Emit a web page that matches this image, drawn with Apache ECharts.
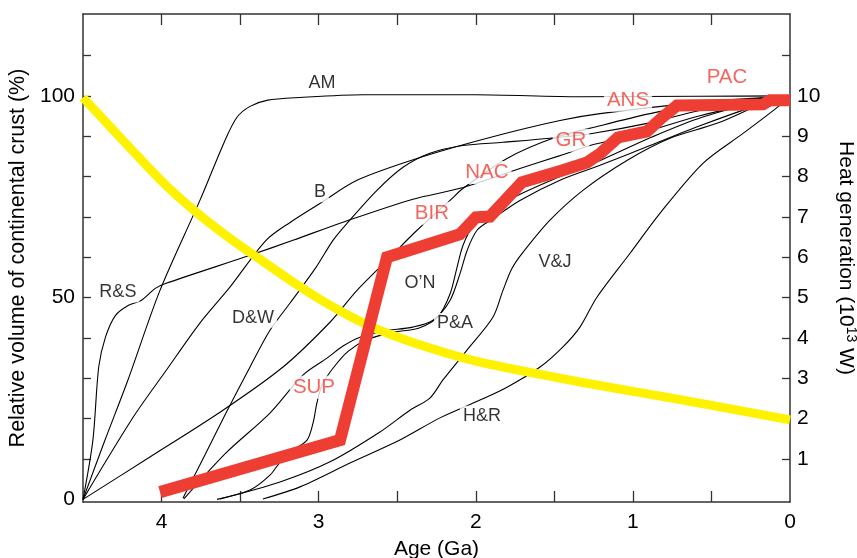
<!DOCTYPE html>
<html>
<head>
<meta charset="utf-8">
<script src="https://cdn.jsdelivr.net/npm/echarts@6/dist/echarts.min.js"></script>
<style>html,body{margin:0;padding:0;background:#fff}#c{width:857px;height:558px}</style>
</head>
<body>
<div id="c"></div>
<script>
// ---- data (age in Ga, relative crust volume in %) ----
const curveAM  = [[4.5,0],[4.36,14.7],[4.214,29.6],[4.01,51.8],[3.756,74.1],[3.597,88.9],[3.52,94.7],[3.437,97.4],[3.33,98.9],[3.12,99.6],[2.72,100.3],[2.0,100.3],[1.337,99.8],[0.573,99.9],[0,100]];
const curveB   = [[4.5,0],[4.18,20.4],[3.97,32.0],[3.756,43.7],[3.565,52.6],[3.335,64.2],[3.18,68.7],[2.99,73.4],[2.756,79.1],[2.374,84.5],[1.91,89.7],[1.464,93.9],[1.209,95.6],[0.573,98.4],[0,100]];
const curveRS  = [[4.5,0],[4.437,14.7],[4.40,32.8],[4.357,40.2],[4.293,45.6],[4.21,48.1],[4.13,49.3],[4.04,52.3],[3.975,53.5],[3.437,60.5],[3.164,64.2],[2.845,68.7],[2.40,74.4],[2.10,77.1],[1.719,82.0],[1.464,85.2],[1.273,87.7],[0.955,90.7],[0.573,95.1],[0,100]];
const curveL5  = [[4.5,0],[4.074,10.5],[3.609,22.1],[3.227,32.8],[2.928,43.9],[2.756,51.8],[2.546,60.0],[2.374,66.7],[2.164,74.1],[2.08,77.1],[1.801,84.5],[1.509,89.5],[1.209,92.6],[0.891,95.6],[0.573,97.9],[0,100]];
const curveDW  = [[3.864,0.3],[3.724,11.0],[3.59,21.4],[3.437,32.8],[3.31,41.9],[3.183,48.6],[3.017,57.5],[2.909,64.2],[2.82,68.4],[2.629,76.6],[2.463,82.3],[2.292,85.8],[2.081,87.7],[1.827,88.5],[1.528,89.5],[1.26,90.7],[0.91,93.2],[0.573,96.4],[0.172,99.0],[0,100]];
const curveON  = [[3.858,0.1],[3.59,11.5],[3.31,21.4],[3.10,30.8],[2.947,35.0],[2.845,38.0],[2.737,40.2],[2.59,41.7],[2.40,42.7],[2.272,44.4],[2.164,49.3],[2.10,56.0],[2.055,61.7],[1.992,66.7],[1.89,69.6],[1.719,74.1],[1.464,79.1],[1.209,82.8],[0.891,87.7],[0.573,92.6],[0.191,97.9],[0,100]];
const curvePA  = [[3.647,0],[3.437,2.3],[3.31,6.0],[3.246,9.2],[3.163,12.2],[3.074,14.7],[3.036,18.9],[3.011,23.9],[2.979,28.3],[2.909,32.5],[2.813,36.7],[2.69,39.6],[2.53,41.4],[2.36,42.5],[2.24,45.3],[2.164,50.9],[2.12,57.4],[2.081,63.0],[2.017,67.8],[1.923,70.9],[1.74,75.2],[1.483,79.7],[1.197,84.2],[0.879,89.8],[0.56,94.7],[0.159,99.0],[0,100]];
const curveVJ  = [[3.628,0.1],[3.246,4.3],[2.928,9.3],[2.61,16.7],[2.419,22.1],[2.292,25.1],[2.209,29.6],[2.056,37.0],[1.89,45.2],[1.827,51.8],[1.77,57.2],[1.70,61.2],[1.528,69.2],[1.318,76.6],[1.038,84.0],[0.764,89.5],[0.465,93.2],[0.172,98.1],[0,100]];
const curveHR  = [[3.355,0.1],[3.119,3.1],[2.801,9.0],[2.483,14.7],[2.228,20.2],[1.973,24.6],[1.801,27.8],[1.591,32.8],[1.445,37.8],[1.337,42.7],[1.229,50.1],[1.018,61.0],[0.828,70.9],[0.554,83.3],[0.299,90.7],[0.083,97.1],[0,100]];
// heavy red growth curve (SUP ... PAC)
const redCurve = [[4.01,1.8],[2.864,14.7],[2.565,60.0],[2.101,65.7],[1.999,69.9],[1.910,70.1],[1.706,78.6],[1.451,81.5],[1.292,83.5],[1.209,85.7],[1.095,89.7],[0.910,91.2],[0.815,94.6],[0.719,97.6],[0.172,97.9],[0.127,98.9],[0,98.9]];
// yellow heat generation curve (10^13 W)
const heatCurve = [[4.5,9.96],[4.328,9.24],[4.138,8.45],[3.947,7.69],[3.756,7.04],[3.565,6.47],[3.374,5.95],[3.183,5.44],[2.992,4.96],[2.801,4.54],[2.61,4.19],[2.292,3.75],[1.973,3.40],[1.337,2.91],[0.681,2.46],[0,1.97]];
// curve labels [text, age, %]
const blackLabels = [['AM',2.979,103.1],['B',2.992,76.1],['R&S',4.278,51.3],['D&W',3.418,45.0],['O\u2019N',2.355,53.6],['P&A',2.132,43.7],['V&J',1.496,58.8],['H&R',1.961,20.7]];
const redLabels = [['SUP',3.03,27.8],['BIR',2.279,70.9],['NAC',1.929,81.0],['GR',1.394,89.0],['ANS',1.031,98.9],['PAC',0.401,104.6]];
// ticks
const ageLabels = [0,1,2,3,4];
const ageTicks = [0.5,1,1.5,2,2.5,3,3.5,4];
const volLabels = [0,50,100];
const volTicks = [10,20,30,40,50,60,70,80,90,100,110];
const heatLabels = [1,2,3,4,5,6,7,8,9,10];
const heatTicks = [1,2,3,4,5,6,7,8,9,10,11];

const FF = "'Liberation Sans', Arial, Helvetica, sans-serif";
const AX = '#333';
const chart = echarts.init(document.getElementById('c'), null, {renderer:'canvas'});

const blackCurves = [curveAM, curveB, curveRS, curveL5, curveDW, curveON, curvePA, curveVJ, curveHR];
const series = blackCurves.map(d => ({
  type:'line', data:d, symbol:'none', smooth:0.3, z:2, silent:true,
  lineStyle:{color:'#000', width:1.1}
}));
series.push({
  type:'scatter', z:3, silent:true, symbolSize:1, itemStyle:{color:'rgba(0,0,0,0)'},
  data: blackLabels.map(l => ({value:[l[1], l[2]], name:l[0]})),
  label:{show:true, position:'inside', formatter: p => p.name, color:'#000', fontSize:18, fontFamily:FF,
         backgroundColor:'#fff', padding:[1,3]}
});
series.push({
  type:'scatter', z:3, silent:true, symbolSize:1, itemStyle:{color:'rgba(0,0,0,0)'},
  data: redLabels.map(l => ({value:[l[1], l[2]], name:l[0]})),
  label:{show:true, position:'inside', formatter: p => p.name, color:'#ef4136', fontSize:20.5, fontFamily:FF,
         backgroundColor:'#fff', padding:[1,3]}
});
series.push({
  type:'line', data:heatCurve, yAxisIndex:1, symbol:'none', smooth:0.3, z:4, silent:true,
  lineStyle:{color:'#fff200', width:9}
});
series.push({
  type:'line', data:redCurve, symbol:'none', smooth:false, z:5, silent:true,
  lineStyle:{color:'#ee3e33', width:12, join:'miter'}
});

const option = {
  animation:false,
  grid:{left:83, right:67, top:14, bottom:56, containLabel:false, outerBoundsMode:'none'},
  xAxis:[
    {type:'value', min:0, max:4.5, inverse:true, position:'bottom',
     axisLine:{show:true, onZero:false, lineStyle:{color:AX, width:1.5}},
     axisTick:{show:true, inside:true, length:11, customValues:ageTicks, lineStyle:{color:AX, width:1.3}},
     axisLabel:{customValues:ageLabels, fontSize:21, color:'#000', fontFamily:FF, margin:10},
     splitLine:{show:false},
     name:'Age (Ga)', nameLocation:'middle', nameGap:37,
     nameTextStyle:{fontSize:21, color:'#000', fontFamily:FF}},
    {type:'value', min:0, max:4.5, inverse:true, position:'top',
     axisLine:{show:true, onZero:false, lineStyle:{color:AX, width:1.5}},
     axisTick:{show:true, inside:true, length:11, customValues:ageTicks, lineStyle:{color:AX, width:1.3}},
     axisLabel:{show:false}, splitLine:{show:false}}
  ],
  yAxis:[
    {type:'value', min:-0.65, max:120.3, position:'left',
     axisLine:{show:true, onZero:false, lineStyle:{color:AX, width:1.5}},
     axisTick:{show:true, inside:true, length:8, customValues:volTicks, lineStyle:{color:AX, width:1.3}},
     axisLabel:{customValues:volLabels, fontSize:21, color:'#000', fontFamily:FF, margin:8},
     splitLine:{show:false},
     name:'Relative volume of continental crust (%)', nameLocation:'middle', nameGap:49,
     nameTextStyle:{fontSize:21.5, color:'#000', fontFamily:FF}},
    {type:'value', min:-0.065, max:12.03, position:'right',
     axisLine:{show:true, onZero:false, lineStyle:{color:AX, width:1.5}},
     axisTick:{show:true, inside:true, length:8, customValues:heatTicks, lineStyle:{color:AX, width:1.3}},
     axisLabel:{customValues:heatLabels, fontSize:21, color:'#000', fontFamily:FF, margin:7},
     splitLine:{show:false},
     name:'Heat generation (10{sup|13} W)', nameLocation:'middle', nameGap:44, nameRotate:-90,
     nameTextStyle:{fontSize:21, color:'#000', fontFamily:FF, lineHeight:24,
       rich:{sup:{fontSize:14, color:'#000', fontFamily:FF, verticalAlign:'top', lineHeight:24, padding:[0,0,8,0]}}}}
  ],
  series: series
};
chart.setOption(option);
</script>
</body>
</html>
